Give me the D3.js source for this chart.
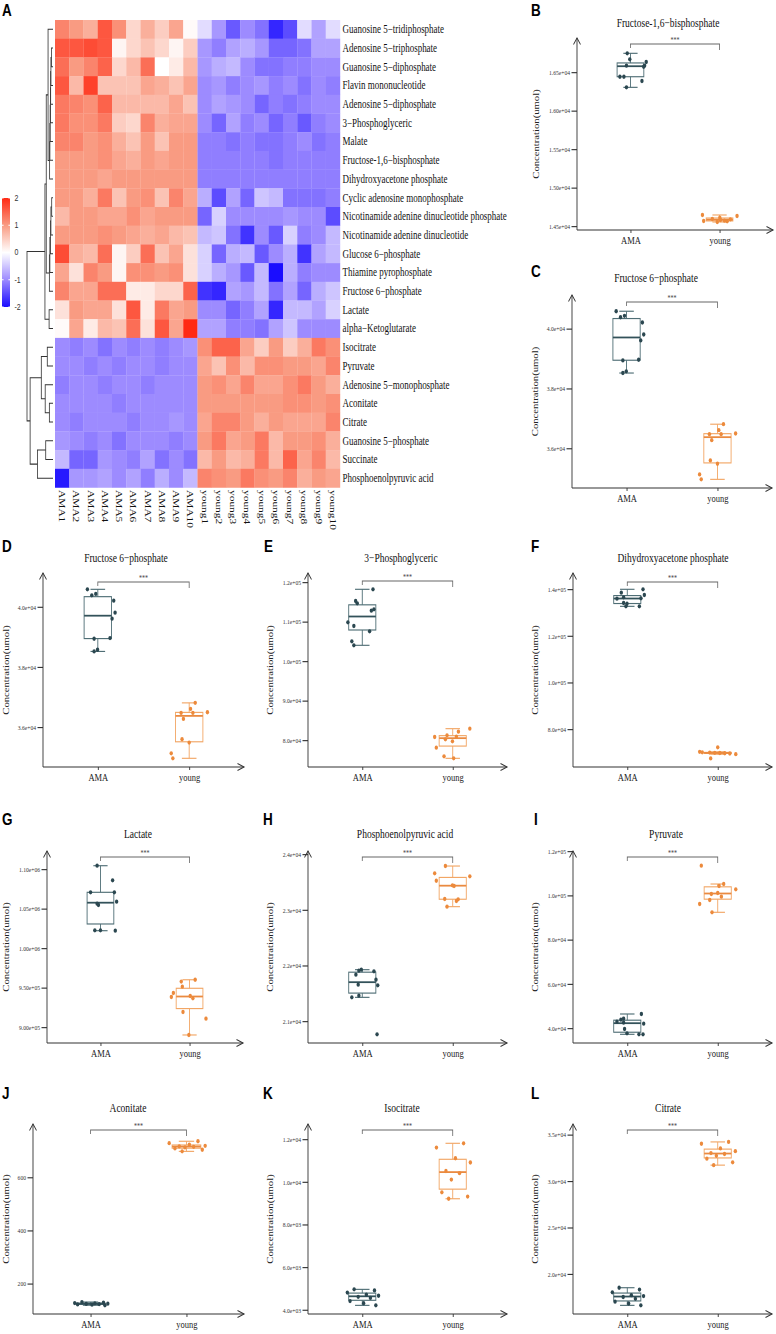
<!DOCTYPE html>
<html>
<head>
<meta charset="utf-8">
<script src="https://cdn.jsdelivr.net/npm/d3@7"></script>
<style>
html, body { margin: 0; padding: 0; background: #fff; }
svg { display: block; }
</style>
</head>
<body>
<script>
// ---------- heatmap data ----------
const rowNames = ["Guanosine 5\u2212tridiphosphate", "Adenosine 5\u2212triphosphate", "Guanosine 5\u2212diphosphate",
    "Flavin mononucleotide", "Adenosine 5\u2212diphosphate", "3\u2212Phosphoglyceric", "Malate",
    "Fructose-1,6\u2212bisphosphate", "Dihydroxyacetone phosphate", "Cyclic adenosine monophosphate",
    "Nicotinamide adenine dinucleotide phosphate", "Nicotinamide adenine dinucleotide", "Glucose 6\u2212phosphate",
    "Thiamine pyrophosphate", "Fructose 6\u2212phosphate", "Lactate", "alpha\u2212Ketoglutarate", "Isocitrate",
    "Pyruvate", "Adenosine 5\u2212monophosphate", "Aconitate", "Citrate", "Guanosine 5\u2212phosphate",
    "Succinate", "Phosphoenolpyruvic acid"];

const colNames = ["AMA1", "AMA2", "AMA3", "AMA4", "AMA5", "AMA6", "AMA7", "AMA8", "AMA9", "AMA10",
    "young1", "young2", "young3", "young4", "young5", "young6", "young7", "young8", "young9", "young10"];

const zScores = [
    [1.2, 1.0, 0.8, 1.6, 1.1, 0.4, 0.8, 0.5, 0.9, 0.05, -0.3, -0.9, -1.4, -1.0, -1.2, -1.8, -1.5, -0.3, -0.8, -0.3],
    [1.6, 1.6, 1.7, 1.6, 0.1, 0.4, 0.6, 0.4, 0.1, 0.5, -0.9, -1.1, -0.8, -0.7, -0.9, -1.3, -1.3, -1.2, -0.8, -0.8],
    [1.4, 1.0, 1.2, 1.5, 0.4, 0.7, 1.4, 0.0, 0.2, 0.7, -0.9, -0.7, -0.6, -1.0, -1.2, -1.2, -1.1, -1.1, -1.0, -1.0],
    [1.6, 0.7, 1.8, 0.6, 0.6, 0.6, 0.9, 0.8, 0.6, 0.9, -1.0, -0.9, -1.1, -1.0, -0.9, -1.1, -1.0, -1.2, -1.0, -1.1],
    [1.3, 1.2, 1.1, 1.5, 0.7, 0.7, 0.7, 0.7, 0.9, 0.6, -1.0, -0.8, -0.9, -1.0, -1.3, -1.1, -1.2, -1.1, -1.0, -1.0],
    [1.3, 1.1, 1.1, 1.3, 0.5, 0.4, 1.2, 0.8, 0.9, 0.9, -1.0, -1.3, -0.8, -1.1, -1.0, -1.3, -1.1, -1.4, -1.1, -1.0],
    [1.2, 1.2, 1.0, 1.1, 0.8, 0.6, 1.0, 0.6, 1.0, 1.0, -1.1, -1.1, -1.2, -1.1, -1.2, -1.2, -1.1, -1.0, -1.2, -1.1],
    [1.0, 1.0, 1.0, 1.1, 0.9, 0.8, 1.0, 0.9, 1.0, 1.0, -1.1, -1.1, -1.1, -1.1, -1.1, -1.2, -1.1, -1.1, -1.1, -1.1],
    [1.0, 1.0, 1.0, 0.9, 1.0, 1.0, 1.0, 1.0, 1.0, 1.0, -1.1, -1.1, -1.1, -1.1, -1.1, -1.1, -1.1, -1.1, -1.1, -1.1],
    [1.0, 1.0, 0.8, 1.3, 0.6, 1.0, 1.1, 0.6, 1.2, 0.9, -0.7, -1.5, -0.8, -1.3, -0.5, -0.6, -1.2, -1.2, -1.2, -1.1],
    [0.7, 1.0, 1.0, 0.9, 0.9, 1.1, 0.9, 1.0, 1.0, 1.0, -1.3, -0.4, -1.0, -1.0, -1.0, -1.0, -0.9, -1.0, -1.0, -1.5],
    [1.0, 1.0, 1.0, 1.1, 1.0, 0.9, 0.8, 0.9, 0.7, 0.6, -0.6, -0.5, -1.2, -1.7, -1.0, -1.4, -0.4, -1.1, -1.0, -0.6],
    [1.7, 0.8, 0.7, 1.4, 0.1, 0.5, 1.4, 0.6, 0.9, 0.3, -0.4, -1.3, -0.7, -0.6, -1.4, -1.0, -0.7, -1.7, -0.8, -0.6],
    [0.9, 0.3, 1.2, 1.0, 0.1, 1.1, 1.1, 1.0, 1.1, 0.3, -0.4, -0.7, -0.9, -1.4, -0.6, -2.0, -0.7, -1.1, -1.0, -1.0],
    [1.2, 0.9, 0.9, 1.4, 1.4, 0.2, 0.2, 0.4, 0.4, 1.5, -1.7, -1.8, -0.8, -0.9, -0.6, -1.2, -0.8, -1.3, -0.7, -0.5],
    [0.3, 1.0, 0.9, 0.9, 0.3, 1.6, 0.2, 1.3, 0.9, 1.0, -1.0, -1.0, -1.3, -1.1, -0.8, -1.8, -0.6, -0.6, -0.8, -0.4],
    [0.05, 0.9, 0.2, 0.7, 0.6, 1.4, 0.3, 1.6, 0.9, 2.0, -0.8, -0.8, -1.1, -1.1, -1.2, -0.8, -0.5, -1.0, -1.0, -1.0],
    [-1.0, -1.1, -1.0, -1.2, -1.0, -1.1, -1.0, -1.1, -1.0, -0.9, 1.1, 1.5, 1.5, 0.9, 0.5, 1.0, 0.5, 0.8, 1.3, 1.1],
    [-1.0, -1.0, -1.1, -1.0, -1.1, -1.0, -1.0, -1.1, -1.0, -1.0, 0.9, 0.6, 1.1, 0.7, 1.1, 1.1, 1.0, 1.0, 0.9, 1.2],
    [-1.1, -1.0, -1.0, -1.1, -1.0, -1.0, -1.1, -1.0, -1.0, -1.0, 1.0, 1.1, 0.9, 1.2, 0.9, 0.9, 1.1, 1.3, 1.0, 0.8],
    [-1.0, -1.0, -1.0, -1.0, -1.1, -1.0, -1.0, -1.0, -1.0, -1.0, 1.0, 1.0, 1.0, 1.0, 1.0, 1.0, 1.1, 1.1, 1.0, 1.1],
    [-1.0, -1.1, -1.0, -1.0, -1.0, -1.1, -1.0, -1.0, -0.9, -1.0, 0.9, 1.2, 1.2, 1.0, 0.8, 1.0, 0.9, 0.9, 0.9, 1.2],
    [-0.9, -1.0, -1.1, -1.0, -1.2, -1.0, -1.0, -1.0, -1.1, -1.0, 1.0, 1.3, 0.9, 1.0, 1.3, 0.7, 1.0, 1.0, 1.1, 0.8],
    [-0.6, -1.3, -1.3, -0.9, -1.0, -1.1, -0.8, -1.2, -1.0, -1.2, 0.7, 1.0, 0.7, 0.8, 1.3, 0.7, 1.5, 0.9, 1.2, 0.7],
    [-1.9, -0.9, -0.9, -0.8, -1.0, -0.8, -1.1, -0.7, -1.0, -0.6, 1.2, 1.1, 1.0, 1.3, 1.1, 1.0, 1.2, 0.8, 1.0, 0.9]
];

// row dendrogram: [height, left, right], leaves are row indices
const rowTree = [1.0,
    [0.31,
        [0.26,
            [0.19, 0, [0.13, [0.12, [0.11, [0.10, [0.09, [0.08, [0.06, 1, 2], 3], 4], 5], 6], 7], 8]],
            [0.14, [0.12, [0.10, [0.08, [0.05, 9, 10], 11], 12], 13], 14]
        ],
        [0.15, 15, 16]
    ],
    [0.88,
        [0.45, [0.22, 17, 18], [0.30, 19, [0.14, 20, 21]]],
        [0.60, [0.28, 22, 23], 24]
    ]
];

const legendTicks = [2, 1, 0, -1, -2];

// ---------- box plot data ----------
const groups = ["AMA", "young"];

const f16bpAMA = [16743, 16665, 16630, 16582, 16582, 16569, 16439, 16439, 16383, 16301];
const f16bpYoung = [14643, 14630, 14608, 14591, 14587, 14578, 14569, 14565, 14561, 14552];
const f16bpJitA = [-0.24, -0.05, 1.18, -0.3, 1.06, 0.99, -0.79, -0.49, 0.86, -0.3];
const f16bpJitY = [-1.28, 1.31, 0.02, -0.54, 0.81, 0.07, 0.37, -1.19, 0.57, -0.17];

const f6pAMA = [40577, 40377, 40423, 40200, 39800, 39600, 38933, 38956, 38511, 38567];
const f6pYoung = [36800, 36600, 36467, 36467, 36489, 36267, 35589, 35478, 35122, 34956];
const f6pJitA = [-0.76, -0.44, -0.15, 1.16, 1.26, 1.04, -0.27, 0.89, -0.27, -0.02];
const f6pJitY = [0.44, 0.1, -0.59, 0.27, 1.33, -0.42, -0.52, 0.0, -1.31, -1.19];

const pgAMA = [118150, 115190, 114600, 112740, 113080, 109790, 108860, 107510, 104980, 103970];
const pgYoung = [82870, 82100, 80760, 81190, 80170, 80840, 79670, 78060, 75870, 75360];
const pgJitA = [0.79, -0.49, -0.37, 0.67, 0.86, -1.06, -0.62, 0.54, -0.77, -0.62];
const pgJitY = [1.26, 0.42, -1.33, -0.42, -0.54, 0.27, -0.02, -1.21, -0.64, 0.07];

const dhapAMA = [139870, 138430, 137430, 136430, 136000, 135840, 134000, 133700, 132570, 132570];
const dhapYoung = [72150, 70200, 70000, 69900, 69800, 69700, 69600, 69500, 69200, 67400];
const dhapJitA = [1.16, -0.44, 1.26, -0.27, 1.01, -0.76, -0.27, -0.02, -0.1, 0.89];
const dhapJitY = [0.0, -1.33, -1.14, -0.59, -0.22, 0.15, 0.52, 0.89, 1.33, -0.52];

const lacAMA = [1104170, 1085700, 1070500, 1070500, 1058600, 1056100, 1054400, 1022400, 1022400, 1021900];
const lacYoung = [959800, 957500, 951000, 943000, 939200, 938000, 936300, 919000, 910500, 889900];
const lacJitA = [-0.25, 0.91, -0.74, 1.04, 1.21, -0.25, -0.15, -0.42, 0, 1.11];
const lacJitY = [0.42, -0.62, -0.54, -1.21, 0.05, -1.36, 0.25, -0.49, 1.23, -0.05];

const pepAMA = [21922, 21904, 21892, 21832, 21742, 21653, 21641, 21455, 21425, 20760];
const pepYoung = [23784, 23653, 23599, 23520, 23437, 23425, 23192, 23186, 23156, 23054];
const pepJitA = [-0.07, -0.25, 0.86, -0.47, 1.01, -0.3, 1.14, -0.25, -0.77, 1.09];
const pepJitY = [-0.54, -1.33, 1.26, -1.21, -0.02, 0.1, -0.59, 0.4, 0.27, -0.42];

const pyrAMA = [46330, 44200, 43750, 42850, 41950, 42400, 39550, 37600, 37150, 37150];
const pyrYoung = [113360, 105080, 104180, 102690, 100560, 101020, 99350, 97850, 96050, 92290];
const pyrJitA = [1.04, -0.27, -0.47, -0.76, 1.21, -0.27, -0.2, -0.02, 0.86, 1.16];
const pyrJitY = [-1.21, 0.44, 0.1, 1.33, -0.47, 0, 0.27, -0.59, -1.33, -0.42];

const aconAMA = [130, 128, 126, 125, 124, 123, 122, 121, 120, 118];
const aconYoung = [735, 728, 722, 718, 716, 714, 712, 708, 703, 697];
const isoAMA = [4950, 4900, 4800, 4700, 4650, 4600, 4550, 4400, 4300, 4200];
const isoYoung = [11800, 11600, 11100, 10900, 10500, 10400, 10100, 9500, 9300, 9200];
const citAMA = [18500, 18300, 18000, 17700, 17600, 17500, 17300, 17000, 16800, 16600];
const citYoung = [34200, 34000, 33500, 33200, 33000, 32900, 32700, 32400, 32000, 31700];
const genJitA = [-0.6, 0.9, -1.1, 0.3, 1.2, -0.3, 0.6, -0.9, 0.1, 1.0];
const genJitY = [0.8, -1.2, 0.2, 1.3, -0.5, 0.5, -0.1, -0.8, 1.1, -0.3];

// axis limits (value at x axis, value at arrow tip) and tick labels
const f16bpLim = [14448, 16942], f16bpTicks = [14500, 15000, 15500, 16000, 16500],
    f16bpLabels = ["1.45e+04", "1.50e+04", "1.55e+04", "1.60e+04", "1.65e+04"];
const f6pLim = [34667, 41120], f6pTicks = [36000, 38000, 40000], f6pLabels = ["3.6e+04", "3.8e+04", "4.0e+04"];
const pgLim = [73165, 122278], pgTicks = [80000, 90000, 100000, 110000, 120000],
    pgLabels = ["8.0e+04", "9.0e+04", "1.0e+05", "1.1e+05", "1.2e+05"];
const dhapLim = [63711, 146857], dhapTicks = [80000, 100000, 120000, 140000],
    dhapLabels = ["8.0e+04", "1.0e+05", "1.2e+05", "1.4e+05"];
const lacLim = [879747, 1122785], lacTicks = [900000, 950000, 1000000, 1050000, 1100000],
    lacLabels = ["9.00e+05", "9.50e+05", "1.00e+06", "1.05e+06", "1.10e+06"];
const pepLim = [20605, 24054], pepTicks = [21000, 22000, 23000, 24000],
    pepLabels = ["2.1e+04", "2.2e+04", "2.3e+04", "2.4e+04"];
const pyrLim = [33220, 120000], pyrTicks = [40000, 60000, 80000, 100000, 120000],
    pyrLabels = ["4.0e+04", "6.0e+04", "8.0e+04", "1.0e+05", "1.2e+05"];
const aconLim = [85, 800], aconTicks = [200, 400, 600], aconLabels = ["200", "400", "600"];
const isoLim = [3795, 12705], isoTicks = [4000, 6000, 8000, 10000, 12000],
    isoLabels = ["4.0e+03", "6.0e+03", "8.0e+03", "1.0e+04", "1.2e+04"];
const citLim = [15670, 36130], citTicks = [20000, 25000, 30000, 35000],
    citLabels = ["2.0e+04", "2.5e+04", "3.0e+04", "3.5e+04"];

// ---------- canvas (the figure is stretched vertically) ----------
const S = 1334 / 1050;
const vy = a => a / S;
const serif = "'Liberation Serif', 'Times New Roman', serif";
const sans = "'Liberation Sans', Arial, sans-serif";

const svg = d3.select("body").append("svg")
    .attr("width", 776).attr("height", 1334)
    .attr("viewBox", "0 0 776 1050")
    .attr("preserveAspectRatio", "none");

svg.append("rect").attr("width", 776).attr("height", 1050).attr("fill", "#fff");

// ---------- heatmap ----------
let color = d3.scaleLinear()
    .domain([-2, -1, 0, 1, 2])
    .range(["#1a0dff", "#9d8bff", "#ffffff", "#f99b82", "#ff2a14"])
    .clamp(true);

let hx = d3.scaleBand().domain(colNames).range([55, 340]);
let hy = d3.scaleBand().domain(rowNames).range([vy(20), vy(487.5)]);

let cells = [];
zScores.forEach(function (row, i) {
    row.forEach(function (v, j) {
        cells.push({r: rowNames[i], c: colNames[j], v: v});
    });
});

svg.append("g").selectAll("rect")
    .data(cells)
    .enter().append("rect")
    .attr("x", d => hx(d.c))
    .attr("y", d => hy(d.r))
    .attr("width", hx.bandwidth() + 0.2)
    .attr("height", hy.bandwidth() + 0.2)
    .attr("fill", d => color(d.v));

svg.append("g").selectAll("text")
    .data(rowNames)
    .enter().append("text")
    .attr("x", 342.5)
    .attr("y", d => hy(d) + hy.bandwidth() / 2)
    .attr("dominant-baseline", "central")
    .style("font-family", serif)
    .style("font-size", "9px")
    .attr("fill", "#111")
    .text(d => d);

svg.append("g").selectAll("text")
    .data(colNames)
    .enter().append("text")
    .attr("transform", d => "translate(" + (hx(d) + hx.bandwidth() / 2) + "," + vy(490) + ") rotate(90)")
    .attr("dominant-baseline", "central")
    .style("font-family", serif)
    .style("font-size", "9px")
    .attr("fill", "#111")
    .text(d => d);

// dendrogram
let dx = d3.scaleLinear().domain([0, 1]).range([53, 27]);
let dend = svg.append("g").attr("stroke", "#333").attr("stroke-width", 0.8).attr("fill", "none");

function layoutTree(node) {
    if (typeof node === "number") {
        return {y: hy(rowNames[node]) + hy.bandwidth() / 2, h: 0};
    }
    let a = layoutTree(node[1]), b = layoutTree(node[2]);
    let h = node[0];
    dend.append("path").attr("d", "M" + dx(a.h) + "," + a.y + "H" + dx(h) + "V" + b.y + "H" + dx(b.h));
    return {y: (a.y + b.y) / 2, h: h};
}
layoutTree(rowTree);

// colour legend
let ly = d3.scaleLinear().domain([2, -2]).range([vy(198), vy(307)]);
let grad = svg.append("defs").append("linearGradient")
    .attr("id", "hmgrad").attr("x1", 0).attr("y1", 0).attr("x2", 0).attr("y2", 1);
d3.range(0, 1.0001, 0.05).forEach(function (t) {
    grad.append("stop").attr("offset", t).attr("stop-color", color(2 - 4 * t));
});
svg.append("rect")
    .attr("x", 2).attr("y", ly(2)).attr("width", 8).attr("height", ly(-2) - ly(2))
    .attr("fill", "url(#hmgrad)");

let lg = svg.append("g");
legendTicks.forEach(function (t) {
    lg.append("line").attr("x1", 2).attr("x2", 3.6).attr("y1", ly(t)).attr("y2", ly(t))
        .attr("stroke", "#fff").attr("stroke-width", 0.8);
    lg.append("line").attr("x1", 8.4).attr("x2", 10).attr("y1", ly(t)).attr("y2", ly(t))
        .attr("stroke", "#fff").attr("stroke-width", 0.8);
    lg.append("text").attr("x", 14.5).attr("y", ly(t))
        .attr("dominant-baseline", "central")
        .style("font-family", sans).style("font-size", "7px").attr("fill", "#333")
        .text(t);
});

svg.append("text").attr("x", 2).attr("y", vy(16))
    .style("font-family", sans).style("font-weight", "bold").style("font-size", "13.5px")
    .text("A");

// ---------- box plots ----------
const palette = {
    AMA: {pt: "#2b4750", box: "#4f6e75", med: "#33525a"},
    young: {pt: "#ec8a3c", box: "#f2a665", med: "#ea8a40"}
};

const panels = [
    {letter: "B", title: "Fructose-1,6\u2212bisphosphate", AMA: f16bpAMA, young: f16bpYoung, jA: f16bpJitA, jY: f16bpJitY,
        lim: f16bpLim, ticks: f16bpTicks, labels: f16bpLabels,
        pos: {axisX: 577, right: 773, top: 38, bottom: 230, titleX: 668, titleY: 23, letX: 531, letBase: 16.5, labX: 536, brY: 44}},
    {letter: "C", title: "Fructose 6\u2212phosphate", AMA: f6pAMA, young: f6pYoung, jA: f6pJitA, jY: f6pJitY,
        lim: f6pLim, ticks: f6pTicks, labels: f6pLabels,
        pos: {axisX: 572, right: 772, top: 295, bottom: 488, titleX: 656, titleY: 278, letX: 531, letBase: 277, labX: 535, brY: 302}},
    {letter: "D", title: "Fructose 6\u2212phosphate", AMA: f6pAMA, young: f6pYoung, jA: f6pJitA, jY: f6pJitY,
        lim: f6pLim, ticks: f6pTicks, labels: f6pLabels,
        pos: {axisX: 43, right: 244, top: 573, bottom: 767, titleX: 126, titleY: 558, letX: 2, letBase: 552, labX: 6, brY: 582}},
    {letter: "E", title: "3\u2212Phosphoglyceric", AMA: pgAMA, young: pgYoung, jA: pgJitA, jY: pgJitY,
        lim: pgLim, ticks: pgTicks, labels: pgLabels,
        pos: {axisX: 308, right: 507, top: 573, bottom: 767, titleX: 401, titleY: 558, letX: 264, letBase: 552, labX: 270, brY: 581}},
    {letter: "F", title: "Dihydroxyacetone phosphate", AMA: dhapAMA, young: dhapYoung, jA: dhapJitA, jY: dhapJitY,
        lim: dhapLim, ticks: dhapTicks, labels: dhapLabels,
        pos: {axisX: 573, right: 772, top: 573, bottom: 767, titleX: 673, titleY: 558, letX: 531, letBase: 552, labX: 535, brY: 582}},
    {letter: "G", title: "Lactate", AMA: lacAMA, young: lacYoung, jA: lacJitA, jY: lacJitY,
        lim: lacLim, ticks: lacTicks, labels: lacLabels,
        pos: {axisX: 47, right: 243, top: 851, bottom: 1043, titleX: 138, titleY: 834, letX: 2, letBase: 825, labX: 6, brY: 857}},
    {letter: "H", title: "Phosphoenolpyruvic acid", AMA: pepAMA, young: pepYoung, jA: pepJitA, jY: pepJitY,
        lim: pepLim, ticks: pepTicks, labels: pepLabels,
        pos: {axisX: 308, right: 507, top: 851, bottom: 1043, titleX: 405, titleY: 834, letX: 263, letBase: 825, labX: 270, brY: 857}},
    {letter: "I", title: "Pyruvate", AMA: pyrAMA, young: pyrYoung, jA: pyrJitA, jY: pyrJitY,
        lim: pyrLim, ticks: pyrTicks, labels: pyrLabels,
        pos: {axisX: 573, right: 772, top: 851, bottom: 1043, titleX: 666, titleY: 834, letX: 534, letBase: 825, labX: 535, brY: 857}},
    {letter: "J", title: "Aconitate", AMA: aconAMA, young: aconYoung, jA: genJitA, jY: genJitY,
        lim: aconLim, ticks: aconTicks, labels: aconLabels,
        pos: {axisX: 33, right: 244, top: 1124, bottom: 1314, titleX: 128, titleY: 1108, letX: 2, letBase: 1099, labX: 6, brY: 1130}},
    {letter: "K", title: "Isocitrate", AMA: isoAMA, young: isoYoung, jA: genJitA, jY: genJitY,
        lim: isoLim, ticks: isoTicks, labels: isoLabels,
        pos: {axisX: 308, right: 507, top: 1124, bottom: 1314, titleX: 402, titleY: 1108, letX: 263, letBase: 1099, labX: 270, brY: 1130}},
    {letter: "L", title: "Citrate", AMA: citAMA, young: citYoung, jA: genJitA, jY: genJitY,
        lim: citLim, ticks: citTicks, labels: citLabels,
        pos: {axisX: 573, right: 772, top: 1124, bottom: 1314, titleX: 668, titleY: 1108, letX: 531, letBase: 1099, labX: 535, brY: 1130}}
];

function drawPanel(p) {
    let o = p.pos;
    let g = svg.append("g").attr("class", "panel");

    let x = d3.scalePoint().domain(groups).range([o.axisX, o.right]).padding(0.6);
    let y = d3.scaleLinear().domain(p.lim).range([vy(o.bottom), vy(o.top)]);

    // y axis ticks
    let yAxis = d3.axisLeft(y)
        .tickValues(p.ticks)
        .tickFormat((d, i) => p.labels[i])
        .tickSize(5.5)
        .tickPadding(1.5);
    let ya = g.append("g").attr("transform", "translate(" + o.axisX + ",0)").call(yAxis);
    ya.select(".domain").remove();
    ya.selectAll("line").attr("stroke", "#333").attr("stroke-width", 0.9);
    ya.selectAll("text").style("font-family", serif).style("font-size", "5.6px").attr("fill", "#333");

    // x axis ticks and labels
    let xAxis = d3.axisBottom(x).tickSize(vy(3)).tickPadding(vy(3.5));
    let xa = g.append("g").attr("transform", "translate(0," + vy(o.bottom) + ")").call(xAxis);
    xa.select(".domain").remove();
    xa.selectAll("line").attr("stroke", "#333").attr("stroke-width", 0.9);
    xa.selectAll("text").style("font-family", serif).style("font-size", "8.5px").attr("fill", "#222");

    // axis lines with open arrowheads
    let ax = g.append("g").attr("stroke", "#333").attr("stroke-width", 0.9).attr("fill", "none");
    ax.append("path").attr("d", "M" + o.axisX + "," + vy(o.bottom) + "V" + vy(o.top));
    ax.append("path").attr("d", "M" + o.axisX + "," + vy(o.bottom) + "H" + o.right);
    ax.append("path").attr("d", "M" + (o.axisX - 3.5) + "," + vy(o.top + 6.5) + "L" + o.axisX + "," + vy(o.top) +
        "L" + (o.axisX + 3.5) + "," + vy(o.top + 6.5));
    ax.append("path").attr("d", "M" + (o.right - 6.5) + "," + vy(o.bottom - 3.5) + "L" + o.right + "," + vy(o.bottom) +
        "L" + (o.right - 6.5) + "," + vy(o.bottom + 3.5));

    // titles
    g.append("text").attr("x", o.titleX).attr("y", vy(o.titleY))
        .attr("text-anchor", "middle").attr("dominant-baseline", "central")
        .style("font-family", serif).style("font-size", "9.5px").attr("fill", "#111")
        .text(p.title);
    g.append("text")
        .attr("transform", "translate(" + o.labX + "," + vy((o.top + o.bottom) / 2) + ") rotate(-90)")
        .attr("text-anchor", "middle").attr("dominant-baseline", "central")
        .style("font-family", serif).style("font-size", "8.4px").attr("fill", "#222")
        .text("Concentration(umol)");
    g.append("text").attr("x", o.letX).attr("y", vy(o.letBase))
        .style("font-family", sans).style("font-weight", "bold").style("font-size", "13.5px")
        .text(p.letter);

    // significance bracket
    let xa0 = x("AMA"), xa1 = x("young");
    g.append("path")
        .attr("d", "M" + xa0 + "," + vy(o.brY + 4) + "V" + vy(o.brY) + "H" + xa1 + "V" + vy(o.brY + 6))
        .attr("fill", "none").attr("stroke", "#666").attr("stroke-width", 0.8);
    g.append("text").attr("x", (xa0 + xa1) / 2).attr("y", vy(o.brY - 0.8))
        .attr("text-anchor", "middle")
        .style("font-family", serif).style("font-size", "6px").attr("fill", "#444")
        .text("***");

    // boxes
    let hw = x.step() * 0.15, cw = x.step() * 0.08;
    groups.forEach(function (grp) {
        let vals = p[grp];
        let jit = grp === "AMA" ? p.jA : p.jY;
        let col = palette[grp];
        let sorted = vals.slice().sort(d3.ascending);
        let q1 = d3.quantile(sorted, 0.25), med = d3.quantile(sorted, 0.5), q3 = d3.quantile(sorted, 0.75);
        let iqr = q3 - q1;
        let lo = d3.min(sorted.filter(v => v >= q1 - 1.5 * iqr));
        let hi = d3.max(sorted.filter(v => v <= q3 + 1.5 * iqr));
        let cx = x(grp);

        let b = g.append("g").attr("stroke", col.box).attr("stroke-width", 0.9).attr("fill", "none");
        b.append("line").attr("x1", cx).attr("x2", cx).attr("y1", y(hi)).attr("y2", y(lo));
        b.append("line").attr("x1", cx - cw).attr("x2", cx + cw).attr("y1", y(hi)).attr("y2", y(hi));
        b.append("line").attr("x1", cx - cw).attr("x2", cx + cw).attr("y1", y(lo)).attr("y2", y(lo));
        b.append("rect").attr("x", cx - hw).attr("y", y(q3)).attr("width", 2 * hw)
            .attr("height", Math.max(y(q1) - y(q3), 0.5)).attr("fill", "#fff");
        b.append("line").attr("x1", cx - hw).attr("x2", cx + hw).attr("y1", y(med)).attr("y2", y(med))
            .attr("stroke", col.med).attr("stroke-width", 1.4);

        g.append("g").selectAll("circle")
            .data(vals)
            .enter().append("circle")
            .attr("cx", (d, i) => cx + jit[i] * hw)
            .attr("cy", d => y(d))
            .attr("r", 1.7)
            .attr("fill", col.pt);
    });
}

panels.forEach(drawPanel);
</script>
</body>
</html>
